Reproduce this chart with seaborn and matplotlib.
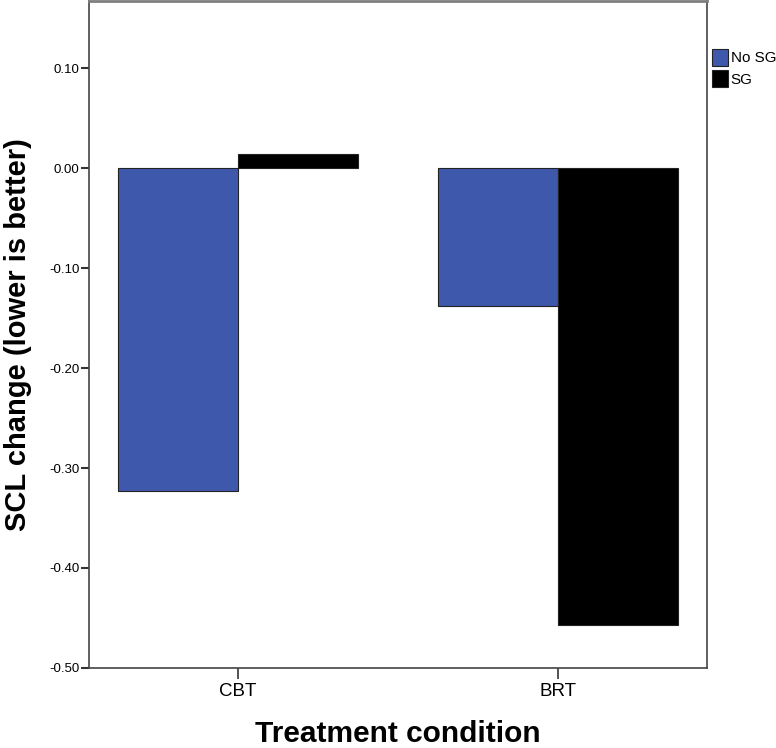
import matplotlib
matplotlib.use("Agg")
import matplotlib.pyplot as plt
import pandas as pd
import seaborn as sns

# data
conditions = ["CBT", "BRT"]
groups = ["No SG", "SG"]
no_sg = [-0.323, -0.138]
sg = [0.014, -0.457]
y_ticks = [0.10, 0.00, -0.10, -0.20, -0.30, -0.40, -0.50]

df = pd.DataFrame({
    "condition": conditions * 2,
    "group": [groups[0]] * 2 + [groups[1]] * 2,
    "value": no_sg + sg,
})

sns.set_style("white")
plt.rcParams["font.family"] = ["Liberation Sans", "DejaVu Sans"]
plt.rcParams["text.color"] = "black"
plt.rcParams["axes.labelcolor"] = "black"
plt.rcParams["xtick.color"] = "black"
plt.rcParams["ytick.color"] = "black"

fig = plt.figure(figsize=(7.76, 7.48), dpi=100)
ax = fig.add_axes([0.1147, 0.107, 0.7964, 0.8915])

palette = {"No SG": "#3e58ac", "SG": "#000000"}
sns.barplot(data=df, x="condition", y="value", hue="group", order=conditions,
            hue_order=groups, palette=palette, width=0.75, gap=0,
            edgecolor="#222222", linewidth=0.8, saturation=1, ax=ax)

ax.set_ylim(-0.50, 0.167)
ax.set_xlim(-0.466, 1.466)
ax.set_yticks(y_ticks)
ax.set_yticklabels([f"{t:.2f}" for t in y_ticks], fontsize=9.5)
ax.tick_params(axis="x", bottom=True, labelsize=13.5, length=8, width=1.2,
               color="#333333", pad=3)
ax.tick_params(axis="y", left=True, length=6, width=1.5, color="#333333", pad=1)

for side in ["left", "bottom", "right"]:
    ax.spines[side].set_color("#444444")
    ax.spines[side].set_linewidth(1.2)
ax.spines["top"].set_color("#7f7f7f")
ax.spines["top"].set_linewidth(2)

ax.set_xlabel("Treatment condition", fontsize=21.5, fontweight="bold", labelpad=14)
ax.set_ylabel("SCL change (lower is better)", fontsize=21, fontweight="bold", labelpad=12)

ax.legend(loc="upper left", bbox_to_anchor=(1.0, 0.935), frameon=False,
          fontsize=11, handlelength=1.1, handleheight=1.3, handletextpad=0.15,
          labelspacing=0.3, borderaxespad=0.1, borderpad=0.2)

fig.savefig("out.png", dpi=100)
